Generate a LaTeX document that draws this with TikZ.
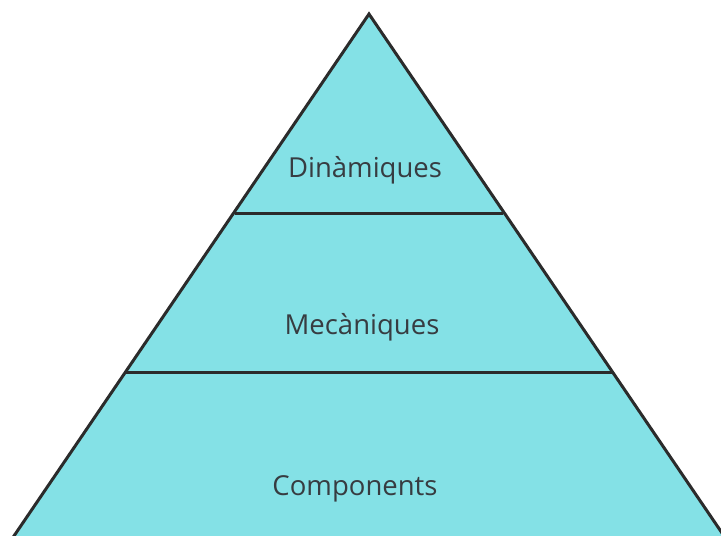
\documentclass[tikz,border=0pt]{standalone}
\usepackage{fontspec}
\setmainfont{Open Sans}
\definecolor{layerfill}{HTML}{84E1E6}
\definecolor{edgeline}{HTML}{2B2B2B}
\definecolor{labeltext}{HTML}{373C41}
\tikzset{
  layerlabel/.style={font=\fontsize{27.5}{32}\selectfont, text=labeltext, inner sep=0pt, anchor=base},
  edge/.style={draw=edgeline, line width=3pt, line join=miter},
}
\begin{document}
\begin{tikzpicture}[x=1pt, y=-1pt]
  \useasboundingbox (0,0) rectangle (721,536);
  \clip (0,0) rectangle (721,536);
  % pyramid outline
  \coordinate (apex) at (369,14);
  \coordinate (bl) at (-16,580);
  \coordinate (br) at (754,580);
  \filldraw[edge, fill=layerfill] (apex) -- (br) -- (bl) -- cycle;
  % layer dividers
  \coordinate (d1l) at (235,213);
  \coordinate (d1r) at (503,213);
  \coordinate (d2l) at (126,372);
  \coordinate (d2r) at (612,372);
  \draw[edge] (d1l) -- (d1r);
  \draw[edge] (d2l) -- (d2r);
  % layer labels (placed by baseline)
  \node[layerlabel] (dyn) at (365,177) {Dinàmiques};
  \node[layerlabel] (mec) at (362,334) {Mecàniques};
  \node[layerlabel] (comp) at (355,495) {Components};
\end{tikzpicture}
\end{document}
